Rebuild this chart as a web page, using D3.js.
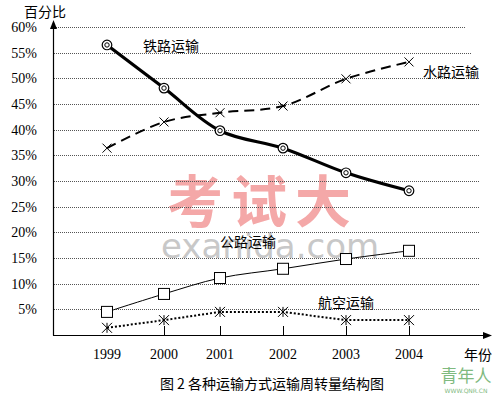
<!DOCTYPE html>
<html>
<head>
<meta charset="utf-8">
<script src="https://cdn.jsdelivr.net/npm/d3@7"></script>
<style>
  body { margin: 0; background: #fff; }
  svg { display: block; }
</style>
</head>
<body>
<div id="chart"></div>
<script>
const years = [1999, 2000, 2001, 2002, 2003, 2004];
const yTicks = [5, 10, 15, 20, 25, 30, 35, 40, 45, 50, 55, 60];
const rail = [56.5, 48.1, 39.8, 36.4, 31.6, 28.1];
const water = [36.4, 41.5, 43.3, 44.6, 49.9, 53.2];
const road = [4.5, 8.0, 11.1, 12.9, 14.8, 16.4];
const air = [1.4, 2.9, 4.5, 4.5, 2.9, 2.9];

const main = function() {
  const svg = d3.select("#chart")
    .append("svg")
    .attr("width", 499)
    .attr("height", 396);

  const x = d3.scaleLinear()
    .domain([1999, 2000, 2001, 2004])
    .range([107, 164, 220, 409]);
  const y = d3.scaleLinear().domain([0, 60]).range([335, 27]);

  const cjk = "'Noto Sans CJK SC', sans-serif";
  const serif = "'Liberation Serif', 'Times New Roman', serif";

  // watermarks
  svg.append("text")
    .attr("x", 263).attr("y", 222)
    .attr("text-anchor", "middle")
    .style("font-family", cjk).style("font-weight", "bold")
    .style("font-size", "56px").style("fill", "#f4a8a8")
    .style("letter-spacing", "8px")
    .text("考试大");
  svg.append("text")
    .attr("x", 270).attr("y", 258)
    .attr("text-anchor", "middle")
    .style("font-family", "'DejaVu Sans', sans-serif")
    .style("font-size", "34px").style("fill", "#c8c8c8")
    .text("exanida.com");

  // gridlines
  svg.selectAll(".grid")
    .data(yTicks)
    .enter()
    .append("line")
    .attr("x1", 54)
    .attr("x2", d => d >= 55 ? (d === 60 ? 466 : 472) : 480)
    .attr("y1", d => Math.round(y(d)) + 0.5)
    .attr("y2", d => Math.round(y(d)) + 0.5)
    .style("stroke", "#555")
    .style("stroke-width", 1)
    .style("stroke-dasharray", "1,1");

  // y axis labels
  svg.selectAll(".ylab")
    .data(yTicks)
    .enter()
    .append("text")
    .attr("x", 37)
    .attr("y", d => y(d) + 5)
    .attr("text-anchor", "end")
    .style("font-family", serif)
    .style("font-size", "14px")
    .text(d => d + "%");

  // axes
  svg.append("line")
    .attr("x1", 53.5).attr("x2", 53.5)
    .attr("y1", 28).attr("y2", 335.5)
    .style("stroke", "#000").style("stroke-width", 1.2);
  svg.append("path")
    .attr("d", "M53.5,20 L50,29 L57,29 Z")
    .style("fill", "#000");
  svg.append("line")
    .attr("x1", 53).attr("x2", 484)
    .attr("y1", 335.5).attr("y2", 335.5)
    .style("stroke", "#000").style("stroke-width", 1.2);
  svg.append("path")
    .attr("d", "M492,335.5 L483,332 L483,339 Z")
    .style("fill", "#000");

  svg.selectAll(".xtick")
    .data(years.slice(1))
    .enter()
    .append("line")
    .attr("x1", d => Math.round(x(d)) + 0.5)
    .attr("x2", d => Math.round(x(d)) + 0.5)
    .attr("y1", 326).attr("y2", 335)
    .style("stroke", "#000");

  svg.selectAll(".xlab")
    .data(years)
    .enter()
    .append("text")
    .attr("x", d => x(d))
    .attr("y", 359)
    .attr("text-anchor", "middle")
    .style("font-family", serif)
    .style("font-size", "14px")
    .text(d => d);

  svg.append("text")
    .attr("x", 45).attr("y", 17)
    .attr("text-anchor", "middle")
    .style("font-family", cjk).style("font-size", "14px")
    .text("百分比");
  svg.append("text")
    .attr("x", 478).attr("y", 360)
    .attr("text-anchor", "middle")
    .style("font-family", cjk).style("font-size", "14px")
    .text("年份");
  svg.append("text")
    .attr("x", 272).attr("y", 389)
    .attr("text-anchor", "middle")
    .style("font-family", cjk).style("font-size", "14px")
    .text("图 2 各种运输方式运输周转量结构图");

  const line = d3.line()
    .x((d, i) => x(years[i]))
    .y(d => y(d))
    .curve(d3.curveCatmullRom);

  // series lines
  svg.append("path").datum(road).attr("d", line)
    .style("fill", "none").style("stroke", "#000").style("stroke-width", 1);
  svg.append("path").datum(air).attr("d", line.curve(d3.curveLinear))
    .style("fill", "none").style("stroke", "#000").style("stroke-width", 2)
    .style("stroke-dasharray", "2,2");
  line.curve(d3.curveCatmullRom);
  svg.append("path").datum(water).attr("d", line)
    .style("fill", "none").style("stroke", "#000").style("stroke-width", 2)
    .style("stroke-dasharray", "10,6");
  svg.append("path").datum(rail).attr("d", line)
    .style("fill", "none").style("stroke", "#000").style("stroke-width", 3.2);

  // markers: road squares
  svg.selectAll(".sq").data(road).enter().append("rect")
    .attr("x", (d, i) => x(years[i]) - 5.5)
    .attr("y", d => y(d) - 5.5)
    .attr("width", 11).attr("height", 11)
    .style("fill", "#fff").style("stroke", "#000");

  // rail double circles
  svg.selectAll(".c1").data(rail).enter().append("circle")
    .attr("cx", (d, i) => x(years[i])).attr("cy", d => y(d))
    .attr("r", 4.8)
    .style("fill", "#fff").style("stroke", "#000").style("stroke-width", 1.2);
  svg.selectAll(".c2").data(rail).enter().append("circle")
    .attr("cx", (d, i) => x(years[i])).attr("cy", d => y(d))
    .attr("r", 2.2)
    .style("fill", "none").style("stroke", "#000").style("stroke-width", 1);

  // water crosses
  const cross = (sel, data, s) => {
    sel.selectAll(null).data(data).enter().append("path")
      .attr("d", (d, i) => {
        const cx = x(years[i]), cy = y(d);
        return "M" + (cx - s) + "," + (cy - s) + "L" + (cx + s) + "," + (cy + s) +
          "M" + (cx - s) + "," + (cy + s) + "L" + (cx + s) + "," + (cy - s);
      })
      .style("stroke", "#000").style("stroke-width", 1).style("fill", "none");
  };
  cross(svg, water, 4.5);
  cross(svg, air, 5);
  svg.selectAll(".av").data(air).enter().append("line")
    .attr("x1", (d, i) => x(years[i])).attr("x2", (d, i) => x(years[i]))
    .attr("y1", d => y(d) - 5).attr("y2", d => y(d) + 5)
    .style("stroke", "#000").style("stroke-width", 1);

  // series labels
  const labels = [
    { t: "铁路运输", x: 171, y: 51 },
    { t: "水路运输", x: 451, y: 77 },
    { t: "公路运输", x: 248, y: 247 },
    { t: "航空运输", x: 346, y: 308 }
  ];
  svg.selectAll(".slab").data(labels).enter().append("text")
    .attr("x", d => d.x).attr("y", d => d.y)
    .attr("text-anchor", "middle")
    .style("font-family", cjk).style("font-size", "14px")
    .text(d => d.t);

  // bottom-right watermark
  svg.append("text")
    .attr("x", 466).attr("y", 382)
    .attr("text-anchor", "middle")
    .style("font-family", cjk).style("font-size", "17px")
    .style("fill", "#7fba7f")
    .text("青年人");
  svg.append("text")
    .attr("x", 466).attr("y", 393)
    .attr("text-anchor", "middle")
    .style("font-family", "'DejaVu Sans', sans-serif").style("font-size", "6px")
    .style("fill", "#7fba7f")
    .text("WWW.QNR.CN");
};

window.onload = main;
</script>
</body>
</html>
